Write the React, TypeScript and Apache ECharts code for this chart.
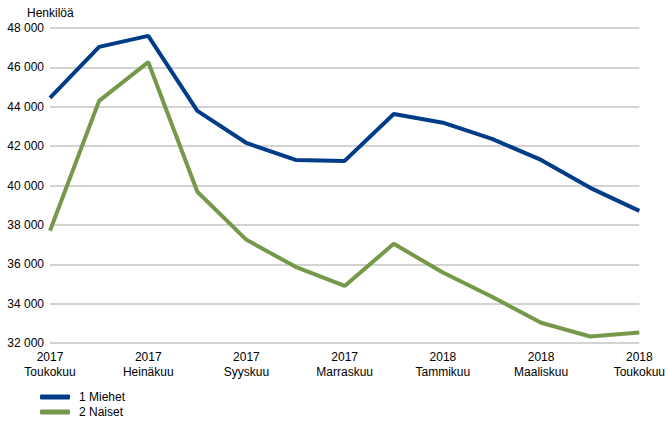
import React, { useEffect, useRef } from "react";
import * as echarts from "echarts";

const categories = [
  "2017\nToukokuu", "2017\nKesäkuu", "2017\nHeinäkuu", "2017\nElokuu", "2017\nSyyskuu",
  "2017\nLokakuu", "2017\nMarraskuu", "2017\nJoulukuu", "2018\nTammikuu", "2018\nHelmikuu",
  "2018\nMaaliskuu", "2018\nHuhtikuu", "2018\nToukokuu",
];
const miehet = [44450, 47040, 47600, 43790, 42160, 41300, 41250, 43630, 43190, 42370, 41300, 39880, 38710];
const naiset = [37700, 44300, 46270, 39680, 37240, 35870, 34900, 37040, 35580, 34350, 33030, 32330, 32530];
const seriesNames = ["1 Miehet", "2 Naiset"];
const colors = ["#003c87", "#76984a"];
const yAxisTitle = "Henkilöä";

export default function App() {
  const ref = useRef<HTMLDivElement>(null);
  useEffect(() => {
    const chart = echarts.init(ref.current!, undefined, { renderer: "svg" });
    const font = "Liberation Sans, Arial, sans-serif";
    const legendBase = {
      orient: "horizontal",
      left: 40,
      itemWidth: 30,
      itemHeight: 5,
      itemGap: 4,
      icon: "roundRect",
      padding: 0,
      textStyle: { fontSize: 12, color: "#000", fontFamily: font, padding: [0, 0, 0, 4] },
    };
    chart.setOption({
      animation: false,
      textStyle: { fontFamily: font },
      title: {
        text: yAxisTitle,
        left: 27,
        top: 6,
        padding: 0,
        textStyle: { fontSize: 12, fontWeight: "normal", color: "#000", fontFamily: font, lineHeight: 14 },
      },
      grid: { left: 50, right: 23, top: 28, bottom: 82, containLabel: false },
      legend: [
        { ...legendBase, top: 391, data: [seriesNames[0]] },
        { ...legendBase, top: 406, data: [seriesNames[1]] },
      ],
      xAxis: {
        type: "category",
        data: categories,
        boundaryGap: false,
        axisLine: { show: false },
        axisTick: { show: false },
        axisLabel: {
          interval: 1,
          fontSize: 12,
          color: "#000",
          lineHeight: 15,
          margin: 6,
          fontFamily: font,
        },
      },
      yAxis: {
        type: "value",
        min: 32000,
        max: 48000,
        interval: 2000,
        axisLine: { show: false },
        axisTick: { show: false },
        axisLabel: {
          fontSize: 12,
          color: "#000",
          margin: 6,
          fontFamily: font,
          formatter: (v: number) => {
            const s = String(v);
            return s.length > 3 ? s.slice(0, s.length - 3) + " " + s.slice(-3) : s;
          },
        },
        splitLine: { lineStyle: { color: "#c4c4c4", width: 1.5 } },
      },
      series: [
        {
          name: seriesNames[0],
          type: "line",
          data: miehet,
          symbol: "none",
          lineStyle: { width: 4, color: colors[0] },
          itemStyle: { color: colors[0] },
        },
        {
          name: seriesNames[1],
          type: "line",
          data: naiset,
          symbol: "none",
          lineStyle: { width: 4, color: colors[1] },
          itemStyle: { color: colors[1] },
        },
      ],
    });
    return () => chart.dispose();
  }, []);
  return <div ref={ref} style={{ position: "absolute", left: 0, top: 0, width: 668, height: 425 }} />;
}
